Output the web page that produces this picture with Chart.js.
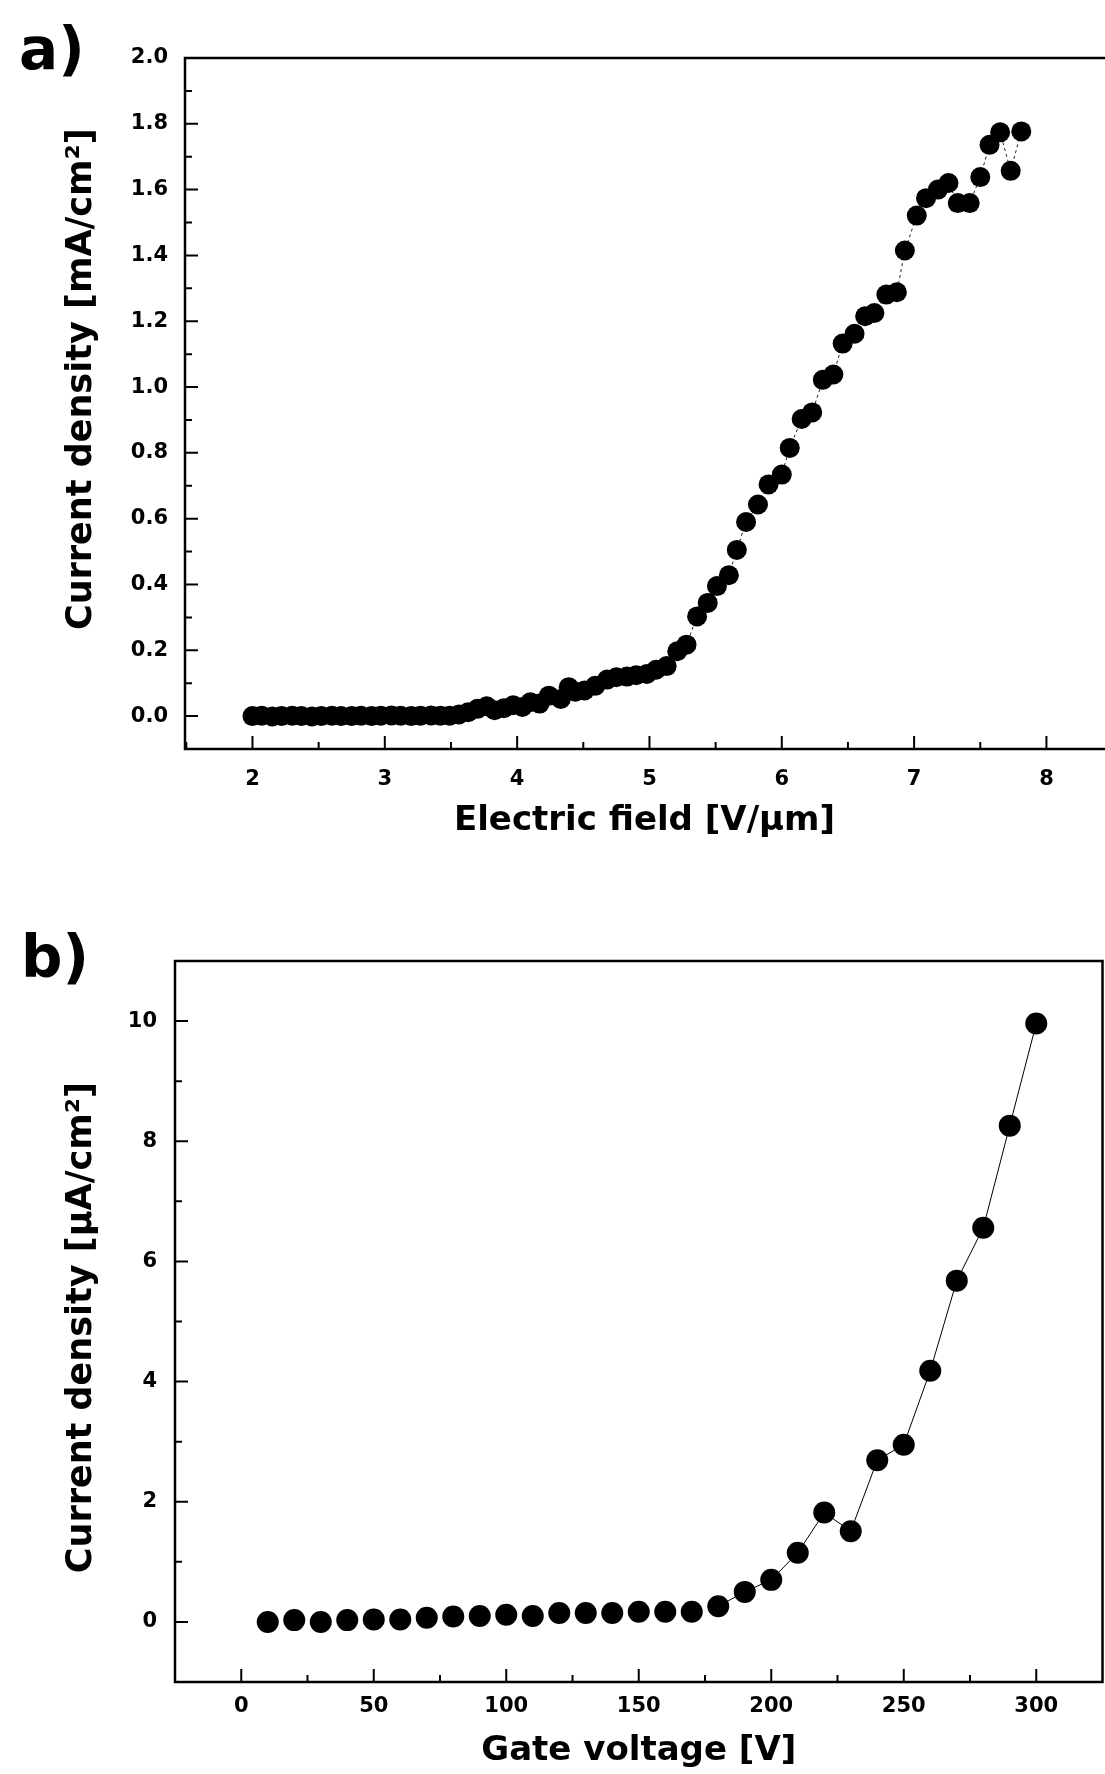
<!DOCTYPE html>
<html>
<head>
<meta charset="utf-8">
<script src="https://cdn.jsdelivr.net/npm/chart.js@4/dist/chart.umd.min.js"></script>
<style>
html, body { margin: 0; padding: 0; background: #fff; width: 1105px; height: 1774px; overflow: hidden; }
.lettre { position: absolute; font-family: 'DejaVu Sans'; font-weight: bold; font-size: 58px; line-height: 58px; color: #000; }
#grapheA { position: absolute; left: 0; top: 0; }
#grapheB { position: absolute; left: 0; top: 880px; }
</style>
</head>
<body>
<div class="lettre" style="left:19px; top:20px;">a)</div>
<div class="lettre" style="left:21px; top:928px;">b)</div>
<canvas id="grapheA" width="1105" height="880"></canvas>
<canvas id="grapheB" width="1105" height="894"></canvas>
<script>
// a) densité de courant en fonction du champ électrique
const champA = [2.00, 2.07, 2.15, 2.22, 2.30, 2.37, 2.45, 2.52, 2.60, 2.67, 2.75, 2.82, 2.90, 2.97, 3.05, 3.12, 3.20, 3.27, 3.35, 3.42, 3.49,
    3.56, 3.63, 3.70, 3.77, 3.83, 3.90, 3.97, 4.04, 4.10, 4.17, 4.24, 4.33, 4.39, 4.44, 4.51, 4.59,
    4.68, 4.75, 4.83, 4.90, 4.98, 5.05, 5.13, 5.21, 5.28, 5.36, 5.44, 5.51, 5.60, 5.66, 5.73, 5.82, 5.90, 6.00, 6.06, 6.15,
    6.23, 6.31, 6.39, 6.46, 6.55, 6.63, 6.70, 6.79, 6.87, 6.93, 7.02, 7.09, 7.18, 7.26, 7.33, 7.42, 7.50, 7.57, 7.65, 7.73, 7.81];
const densiteA = [0.000, 0.001, -0.001, 0.000, 0.001, 0.000, -0.001, 0.000, 0.001, 0.000, 0.000, 0.001, 0.000, 0.001, 0.002, 0.001, 0.000, 0.001, 0.002, 0.001, 0.001,
    0.005, 0.012, 0.022, 0.030, 0.018, 0.024, 0.033, 0.028, 0.042, 0.038, 0.062, 0.052, 0.088, 0.074, 0.078, 0.092,
    0.111, 0.118, 0.120, 0.124, 0.128, 0.141, 0.152, 0.197, 0.217, 0.303, 0.344, 0.395, 0.428, 0.505, 0.590, 0.643, 0.704, 0.734, 0.815, 0.903,
    0.923, 1.022, 1.038, 1.132, 1.162, 1.215, 1.225, 1.281, 1.288, 1.415, 1.521, 1.574, 1.600, 1.620, 1.559, 1.559, 1.638, 1.736, 1.774, 1.657, 1.777];
const ticksXA = [2, 3, 4, 5, 6, 7, 8];
const ticksYA = [0, 0.2, 0.4, 0.6, 0.8, 1.0, 1.2, 1.4, 1.6, 1.8, 2.0];

// b) densité de courant en fonction de la tension de grille
const tensionB = [10, 20, 30, 40, 50, 60, 70, 80, 90, 100, 110, 120, 130, 140, 150, 160, 170, 180, 190, 200, 210, 220, 230, 240, 250, 260, 270, 280, 290, 300];
const densiteB = [0.00, 0.03, 0.00, 0.03, 0.04, 0.04, 0.07, 0.09, 0.10, 0.12, 0.10, 0.15, 0.15, 0.15, 0.17, 0.17, 0.17, 0.26, 0.50, 0.70,
    1.15, 1.82, 1.51, 2.69, 2.95, 4.18, 5.68, 6.56, 8.26, 9.96];
const ticksXB = [0, 50, 100, 150, 200, 250, 300];
const ticksYB = [0, 2, 4, 6, 8, 10];

Chart.defaults.font.family = 'DejaVu Sans';
Chart.defaults.color = '#000';

const makeXY = (xs, ys) => xs.map((x, i) => ({x: x, y: ys[i]}));

// cadre + graduations vers l'intérieur
const cadre = {
    id: 'cadre',
    afterDraw: (chart, args, opts) => {
        const {ctx, chartArea: a} = chart;
        const sx = chart.scales.x;
        const sy = chart.scales.y;

        const marques = (scale) => {
            const v = scale.ticks.map(t => t.value);
            const pas = v[1] - v[0];
            const mineures = [v[0] - pas / 2, ...v.map(t => t + pas / 2)].filter(m => m > scale.min && m < scale.max);
            return {v, mineures};
        };

        ctx.save();
        ctx.strokeStyle = '#000';
        ctx.lineCap = 'square';
        ctx.lineWidth = 2.5;
        ctx.beginPath();
        ctx.moveTo(a.left, a.top);
        ctx.lineTo(a.left, a.bottom);
        ctx.lineTo(a.right, a.bottom);
        ctx.moveTo(a.left, a.top);
        ctx.lineTo(a.right, a.top);
        if (opts.droite) {
            ctx.lineTo(a.right, a.bottom);
        }
        ctx.stroke();

        ctx.lineWidth = 2;
        ctx.lineCap = 'butt';
        ctx.beginPath();
        const mx = marques(sx);
        mx.v.forEach(v => { const p = sx.getPixelForValue(v); ctx.moveTo(p, a.bottom); ctx.lineTo(p, a.bottom - 13); });
        mx.mineures.forEach(v => { const p = sx.getPixelForValue(v); ctx.moveTo(p, a.bottom); ctx.lineTo(p, a.bottom - 7); });
        const my = marques(sy);
        my.v.forEach(v => { const p = sy.getPixelForValue(v); ctx.moveTo(a.left, p); ctx.lineTo(a.left + 13, p); });
        my.mineures.forEach(v => { const p = sy.getPixelForValue(v); ctx.moveTo(a.left, p); ctx.lineTo(a.left + 7, p); });
        ctx.stroke();
        ctx.restore();
    }
};

const tickFont = {size: 21, weight: 'bold', lineHeight: 1};
const titleFont = {size: 34, weight: 'bold', lineHeight: 1.2};
const yTitleFont = {size: 35, weight: 'bold', lineHeight: 1.2};
const noGrid = {display: false, drawTicks: false};

const graphA = () => {
    const ctx = document.getElementById('grapheA');

    const data = {
        datasets: [{
            data: makeXY(champA, densiteA),
            showLine: true,
            borderColor: '#222',
            borderWidth: 1,
            borderDash: [3, 3],
            pointRadius: 10,
            pointBackgroundColor: '#000',
            pointBorderWidth: 0
        }]
    };
    new Chart(ctx, {
        type: 'scatter',
        data: data,
        plugins: [cadre],
        options: {
            responsive: false,
            animation: false,
            events: [],
            layout: {autoPadding: false, padding: {top: 58, right: 1, bottom: 0, left: 0}},
            scales: {
                x: {
                    type: 'linear',
                    min: 1.49,
                    max: 8.435,
                    grid: noGrid,
                    border: {display: false},
                    afterBuildTicks: s => { s.ticks = ticksXA.map(v => ({value: v})); },
                    afterFit: s => { s.height = 131; },
                    ticks: {autoSkip: false, padding: 20, font: tickFont, callback: v => v.toString()},
                    title: {display: true, text: 'Electric field [V/µm]', font: titleFont, padding: {top: 0, bottom: 38}}
                },
                y: {
                    type: 'linear',
                    min: -0.1,
                    max: 2.0,
                    grid: noGrid,
                    border: {display: false},
                    afterBuildTicks: s => { s.ticks = ticksYA.map(v => ({value: v})); },
                    afterFit: s => { s.width = 185; },
                    ticks: {autoSkip: false, padding: 17, font: tickFont, callback: v => v.toFixed(1)},
                    // espaces en tête : le titre est un peu décalé vers le haut dans l'original
                    title: {display: true, text: '    Current density [mA/cm²]', font: yTitleFont, padding: {top: 61, bottom: 0}}
                }
            },
            plugins: {
                legend: {display: false},
                tooltip: {enabled: false},
                cadre: {droite: false}
            }
        }
    });
};

const graphB = () => {
    const ctx = document.getElementById('grapheB');

    const data = {
        datasets: [{
            data: makeXY(tensionB, densiteB),
            showLine: true,
            borderColor: '#000',
            borderWidth: 1,
            segment: {
                borderColor: c => c.p0.parsed.x >= 180 ? '#000' : 'rgba(0,0,0,0)'
            },
            pointRadius: 11,
            pointBackgroundColor: '#000',
            pointBorderWidth: 0
        }]
    };
    new Chart(ctx, {
        type: 'scatter',
        data: data,
        plugins: [cadre],
        options: {
            responsive: false,
            animation: false,
            events: [],
            layout: {autoPadding: false, padding: {top: 81, right: 2.5, bottom: 0, left: 0}},
            scales: {
                x: {
                    type: 'linear',
                    min: -25,
                    max: 325,
                    grid: noGrid,
                    border: {display: false},
                    afterBuildTicks: s => { s.ticks = ticksXB.map(v => ({value: v})); },
                    afterFit: s => { s.height = 92; },
                    ticks: {autoSkip: false, padding: 14, font: tickFont, callback: v => v.toString()},
                    title: {display: true, text: 'Gate voltage [V]', font: titleFont, padding: {top: 0, bottom: 2}}
                },
                y: {
                    type: 'linear',
                    min: -1,
                    max: 11,
                    grid: noGrid,
                    border: {display: false},
                    afterBuildTicks: s => { s.ticks = ticksYB.map(v => ({value: v})); },
                    afterFit: s => { s.width = 175; },
                    ticks: {autoSkip: false, padding: 18, font: tickFont, callback: v => v.toString()},
                    title: {display: true, text: 'Current density [µA/cm²] ', font: yTitleFont, padding: {top: 61, bottom: 0}}
                }
            },
            plugins: {
                legend: {display: false},
                tooltip: {enabled: false},
                cadre: {droite: true}
            }
        }
    });
};

graphA();
graphB();
</script>
</body>
</html>
